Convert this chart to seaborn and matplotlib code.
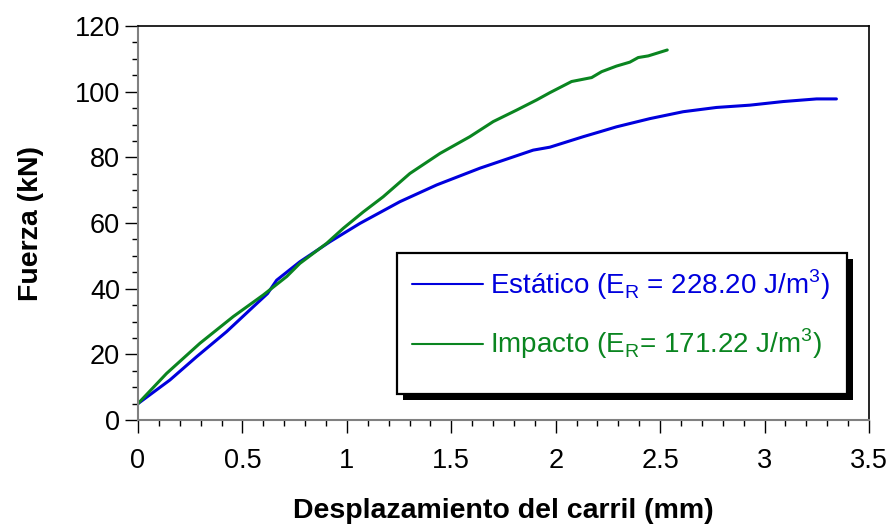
import matplotlib
matplotlib.use("Agg")
import matplotlib.pyplot as plt
from matplotlib.ticker import MultipleLocator
from matplotlib.patches import Rectangle
from matplotlib.lines import Line2D
import pandas as pd
import seaborn as sns

# Static test: rail displacement (mm) vs force (kN)
estatico_x = [0.0, 0.153, 0.281, 0.424, 0.552, 0.62, 0.664, 0.775, 0.919, 1.063,
              1.254, 1.43, 1.637, 1.892, 1.972, 2.132, 2.212, 2.291, 2.451, 2.61,
              2.77, 2.93, 3.089, 3.249, 3.344]
estatico_y = [5.0, 12.2, 19.3, 26.9, 34.5, 38.5, 42.6, 48.2, 54.3, 59.9,
              66.5, 71.6, 76.7, 82.2, 83.1, 86.3, 87.8, 89.3, 91.8, 93.9,
              95.2, 95.9, 97.0, 97.8, 97.8]

# Impact test
impacto_x = [0.0, 0.137, 0.297, 0.456, 0.600, 0.712, 0.775, 0.903, 0.983, 1.079,
             1.174, 1.302, 1.446, 1.589, 1.701, 1.813, 1.909, 1.972, 2.076, 2.172,
             2.220, 2.291, 2.355, 2.395, 2.443, 2.534]
impacto_y = [5.0, 14.2, 23.4, 31.5, 38.1, 43.7, 47.7, 53.8, 58.4, 63.4,
             68.0, 75.1, 81.2, 86.3, 90.9, 94.4, 97.5, 99.7, 103.1, 104.3,
             106.1, 107.8, 109.0, 110.4, 110.9, 112.7]

labels = [r"Estático (E$_\mathregular{R}$ = 228.20 J/m$^\mathregular{3}$)",
          r"Impacto (E$_\mathregular{R}$= 171.22 J/m$^\mathregular{3}$)"]
colors = ["#0000dd", "#0a8520"]

x_ticks = [0, 0.5, 1, 1.5, 2, 2.5, 3, 3.5]
x_tick_labels = ["0", "0.5", "1", "1.5", "2", "2.5", "3", "3.5"]
y_ticks = [0, 20, 40, 60, 80, 100, 120]

df = pd.concat([
    pd.DataFrame({"x": estatico_x, "y": estatico_y, "serie": labels[0]}),
    pd.DataFrame({"x": impacto_x, "y": impacto_y, "serie": labels[1]}),
])

sns.set_theme(style="ticks")
plt.rcParams["font.family"] = ["Liberation Sans", "DejaVu Sans"]
plt.rcParams["mathtext.fontset"] = "custom"
plt.rcParams["mathtext.rm"] = "Liberation Sans"
plt.rcParams["text.color"] = "black"
plt.rcParams["axes.labelcolor"] = "black"

fig = plt.figure(figsize=(8.88, 5.29), dpi=100)
ax = fig.add_axes([0.1554, 0.2060, 0.8232, 0.7448])

sns.lineplot(data=df, x="x", y="y", hue="serie", palette=colors,
             estimator=None, sort=False, linewidth=2.2, ax=ax, legend=False)

ax.set_xlim(0, 3.5)
ax.set_ylim(0, 120)
ax.set_xticks(x_ticks)
ax.set_xticklabels(x_tick_labels)
ax.set_yticks(y_ticks)
ax.xaxis.set_minor_locator(MultipleLocator(0.1))
ax.yaxis.set_minor_locator(MultipleLocator(5))

ax.tick_params(axis="both", which="major", direction="out", length=9.5,
               width=1.0, color="black", labelsize=19.5, labelcolor="black")
ax.tick_params(axis="both", which="minor", direction="out", length=4.5,
               width=1.0, color="black")
ax.tick_params(axis="x", which="major", pad=11)
ax.tick_params(axis="y", which="major", pad=3.5)

for side in ("left", "bottom"):
    ax.spines[side].set_color("#808080")
    ax.spines[side].set_linewidth(1.5)
for side in ("top", "right"):
    ax.spines[side].set_visible(True)
    ax.spines[side].set_color("black")
    ax.spines[side].set_linewidth(1.2)

ax.set_xlabel("Desplazamiento del carril (mm)", fontsize=20.5, fontweight="bold",
              labelpad=17)
ax.set_ylabel("Fuerza (kN)", fontsize=20.5, fontweight="bold", labelpad=22)
ax.grid(False)

# Legend box (frame + solid drop shadow) drawn in axes coordinates
box_x0, box_y0, box_w, box_h = 0.3543, 0.066, 0.6157, 0.358
shadow_dx, shadow_dy = 0.0082, -0.0152
ax.add_patch(Rectangle((box_x0 + shadow_dx, box_y0 + shadow_dy), box_w, box_h,
                       transform=ax.transAxes, facecolor="black",
                       edgecolor="none", zorder=8, clip_on=False))
ax.add_patch(Rectangle((box_x0, box_y0), box_w, box_h,
                       transform=ax.transAxes, facecolor="white",
                       edgecolor="black", linewidth=1.6, zorder=9,
                       clip_on=False))

handles = [Line2D([], [], color=c, linewidth=1.5) for c in colors]
leg = ax.legend(handles, labels, loc="upper left",
                bbox_to_anchor=(0.3447, 0.444), borderaxespad=0,
                fontsize=20, frameon=False, handlelength=2.55,
                handletextpad=0.25, labelspacing=0.9, borderpad=0.8)
leg.set_zorder(10)
for txt, c in zip(leg.get_texts(), colors):
    txt.set_color(c)

fig.savefig("out.png", dpi=100)
